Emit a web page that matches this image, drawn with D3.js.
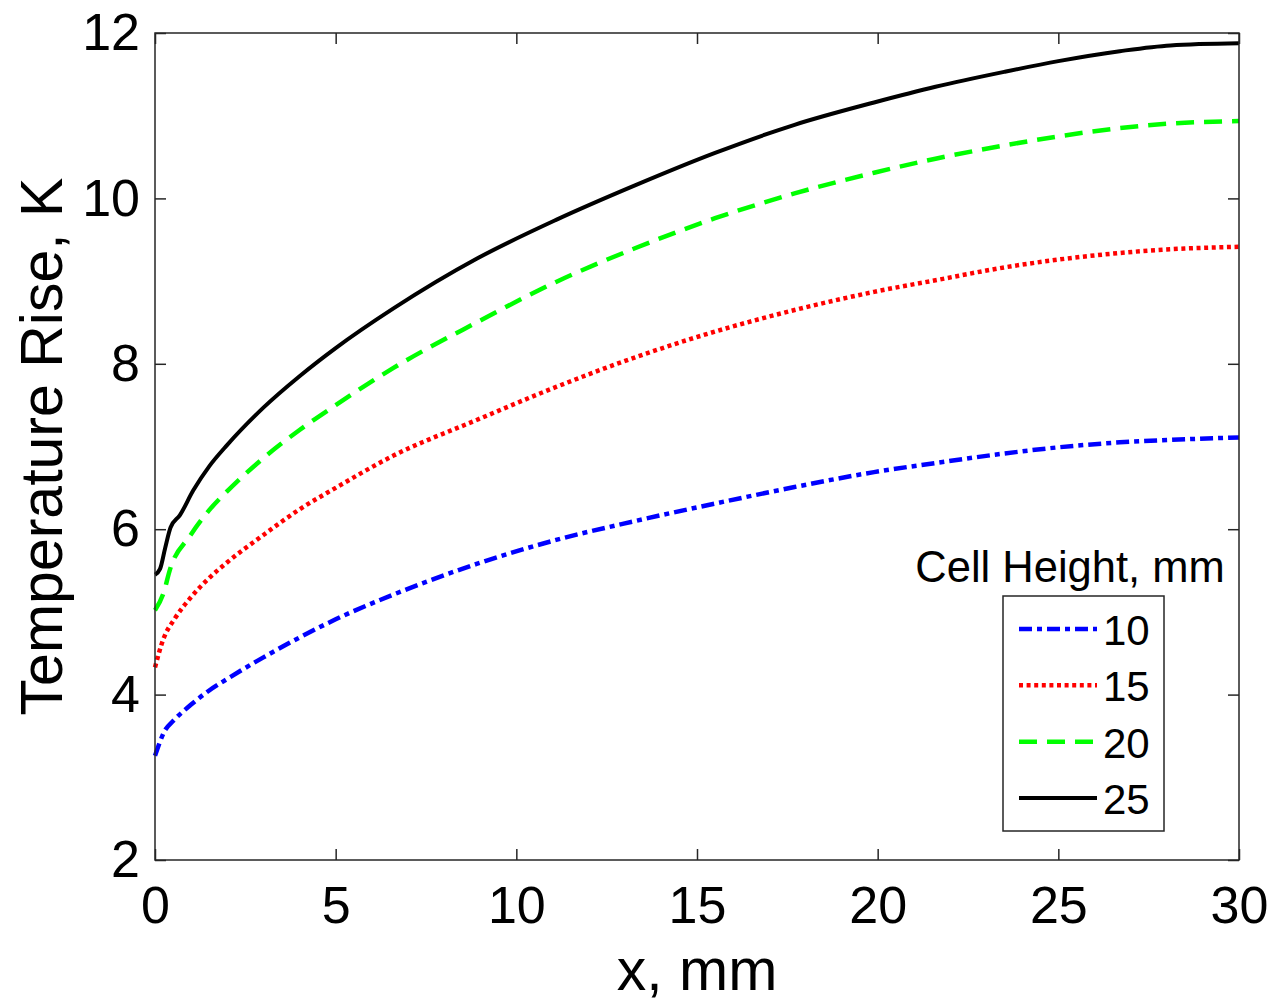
<!DOCTYPE html>
<html>
<head>
<meta charset="utf-8">
<script src="https://cdn.jsdelivr.net/npm/d3@7"></script>
<style>
  html, body { margin: 0; padding: 0; background: #fff; }
  svg { display: block; }
  text { font-family: "Liberation Sans", Arial, sans-serif; fill: #000; }
</style>
</head>
<body>
<script>
// ---- data ----
const xTicks = [0, 5, 10, 15, 20, 25, 30];
const yTicks = [2, 4, 6, 8, 10, 12];
const seriesNames = ["10", "15", "20", "25"];
const legendTitle = "Cell Height, mm";
const xLabel = "x, mm";
const yLabel = "Temperature Rise, K";

const x10 = [0, 0.28, 0.5, 1.0, 1.5, 2.0, 3.0, 4.0, 5.0, 6.6, 8.9, 11.1, 13.3, 15.5, 17.7, 19.9, 21.6, 23.5, 25.0, 26.7, 28.1, 30];
const y10 = [3.26, 3.57, 3.68, 3.88, 4.05, 4.19, 4.45, 4.69, 4.91, 5.21, 5.58, 5.87, 6.10, 6.31, 6.51, 6.69, 6.80, 6.915, 6.99, 7.05, 7.08, 7.11];

const x15 = [0, 0.23, 0.55, 1.0, 1.5, 2.0, 3.0, 4.0, 5.0, 6.6, 8.9, 11.1, 13.3, 15.5, 17.7, 19.9, 21.6, 23.5, 25.0, 26.7, 28.1, 30];
const y15 = [4.33, 4.67, 4.92, 5.18, 5.41, 5.60, 5.93, 6.24, 6.50, 6.89, 7.32, 7.72, 8.08, 8.39, 8.65, 8.87, 9.01, 9.165, 9.26, 9.34, 9.385, 9.415];

const x20 = [0, 0.23, 0.42, 0.97, 1.5, 2.0, 3.0, 4.0, 5.0, 6.6, 8.9, 11.1, 13.3, 15.5, 17.7, 19.9, 21.6, 23.5, 25.0, 26.7, 28.1, 30];
const y20 = [5.02, 5.22, 5.52, 5.92, 6.23, 6.46, 6.86, 7.20, 7.50, 7.95, 8.50, 8.99, 9.40, 9.76, 10.06, 10.31, 10.48, 10.64, 10.75, 10.85, 10.905, 10.935];

const x25 = [0, 0.14, 0.28, 0.43, 0.69, 1.06, 1.5, 2.0, 3.0, 4.0, 5.0, 6.6, 8.9, 11.1, 13.3, 15.5, 17.7, 19.9, 21.6, 23.5, 25.0, 26.7, 28.1, 30];
const y25 = [5.45, 5.52, 5.77, 6.02, 6.17, 6.47, 6.76, 7.02, 7.47, 7.85, 8.19, 8.67, 9.27, 9.74, 10.16, 10.55, 10.89, 11.16, 11.35, 11.53, 11.66, 11.78, 11.85, 11.875];

// ---- styles ----
const W = 1274, H = 1005;
const m = { left: 155, right: 1239, top: 33, bottom: 860 };
const styles = [
  { color: "#0000ff", dash: "13,5,5,5", width: 4.5 },
  { color: "#ff0000", dash: "4,3.6", width: 4.5 },
  { color: "#00ff00", dash: "18,10", width: 4.5 },
  { color: "#000000", dash: null, width: 4 }
];
const seriesData = [
  x10.map((v, i) => [v, y10[i]]),
  x15.map((v, i) => [v, y15[i]]),
  x20.map((v, i) => [v, y20[i]]),
  x25.map((v, i) => [v, y25[i]])
];

const svg = d3.select("body").append("svg").attr("width", W).attr("height", H);

const x = d3.scaleLinear().domain([0, 30]).range([m.left, m.right]);
const y = d3.scaleLinear().domain([2, 12]).range([m.bottom, m.top]);

const axisColor = "#262626";
const tickLen = 11;
const fontTick = 52;

function styleAxis(g, showText) {
  g.select(".domain").remove();
  g.selectAll(".tick line").attr("stroke", axisColor).attr("stroke-width", 1.5);
  if (!showText) g.selectAll(".tick text").remove();
  else g.selectAll(".tick text").attr("font-size", fontTick).attr("fill", "#000")
        .attr("font-family", '"Liberation Sans", Arial, sans-serif');
}

svg.append("g").attr("transform", `translate(0,${m.bottom})`)
  .call(d3.axisBottom(x).tickValues(xTicks).tickSize(-tickLen).tickPadding(26).tickFormat(d3.format("d")))
  .call(g => styleAxis(g, true));
svg.append("g").attr("transform", `translate(0,${m.top})`)
  .call(d3.axisTop(x).tickValues(xTicks).tickSize(-tickLen))
  .call(g => styleAxis(g, false));
svg.append("g").attr("transform", `translate(${m.left},0)`)
  .call(d3.axisLeft(y).tickValues(yTicks).tickSize(-tickLen).tickPadding(15).tickFormat(d3.format("d")))
  .call(g => styleAxis(g, true));
svg.append("g").attr("transform", `translate(${m.right},0)`)
  .call(d3.axisRight(y).tickValues(yTicks).tickSize(-tickLen))
  .call(g => styleAxis(g, false));

// curves
const line = d3.line().x(d => x(d[0])).y(d => y(d[1])).curve(d3.curveMonotoneX);
seriesData.forEach((d, i) => {
  const s = styles[i];
  svg.append("path").datum(d)
    .attr("d", line)
    .attr("fill", "none")
    .attr("stroke", s.color)
    .attr("stroke-width", s.width)
    .attr("stroke-dasharray", s.dash)
    .attr("stroke-linejoin", "round");
});

// frame
svg.append("rect")
  .attr("x", m.left).attr("y", m.top)
  .attr("width", m.right - m.left).attr("height", m.bottom - m.top)
  .attr("fill", "none").attr("stroke", axisColor).attr("stroke-width", 1.5);

// axis labels
svg.append("text")
  .attr("x", (m.left + m.right) / 2).attr("y", 990)
  .attr("text-anchor", "middle").attr("font-size", 59)
  .text(xLabel);
svg.append("text")
  .attr("transform", `translate(62,${(m.top + m.bottom) / 2}) rotate(-90)`)
  .attr("text-anchor", "middle").attr("font-size", 59)
  .text(yLabel);

// legend
const lg = svg.append("g");
lg.append("text").attr("x", 1070).attr("y", 582).attr("text-anchor", "middle")
  .attr("font-size", 43.5).text(legendTitle);
lg.append("rect").attr("x", 1003).attr("y", 596).attr("width", 161).attr("height", 235)
  .attr("fill", "#fff").attr("stroke", axisColor).attr("stroke-width", 1.5);
const ly = d3.scalePoint().domain(seriesNames).range([629, 798]);
seriesNames.forEach((n, i) => {
  const s = styles[i];
  lg.append("line").attr("x1", 1019).attr("x2", 1097)
    .attr("y1", ly(n)).attr("y2", ly(n))
    .attr("stroke", s.color).attr("stroke-width", s.width)
    .attr("stroke-dasharray", s.dash);
  lg.append("text").attr("x", 1103).attr("y", ly(n) + 16)
    .attr("font-size", 42).text(n);
});
</script>
</body>
</html>
